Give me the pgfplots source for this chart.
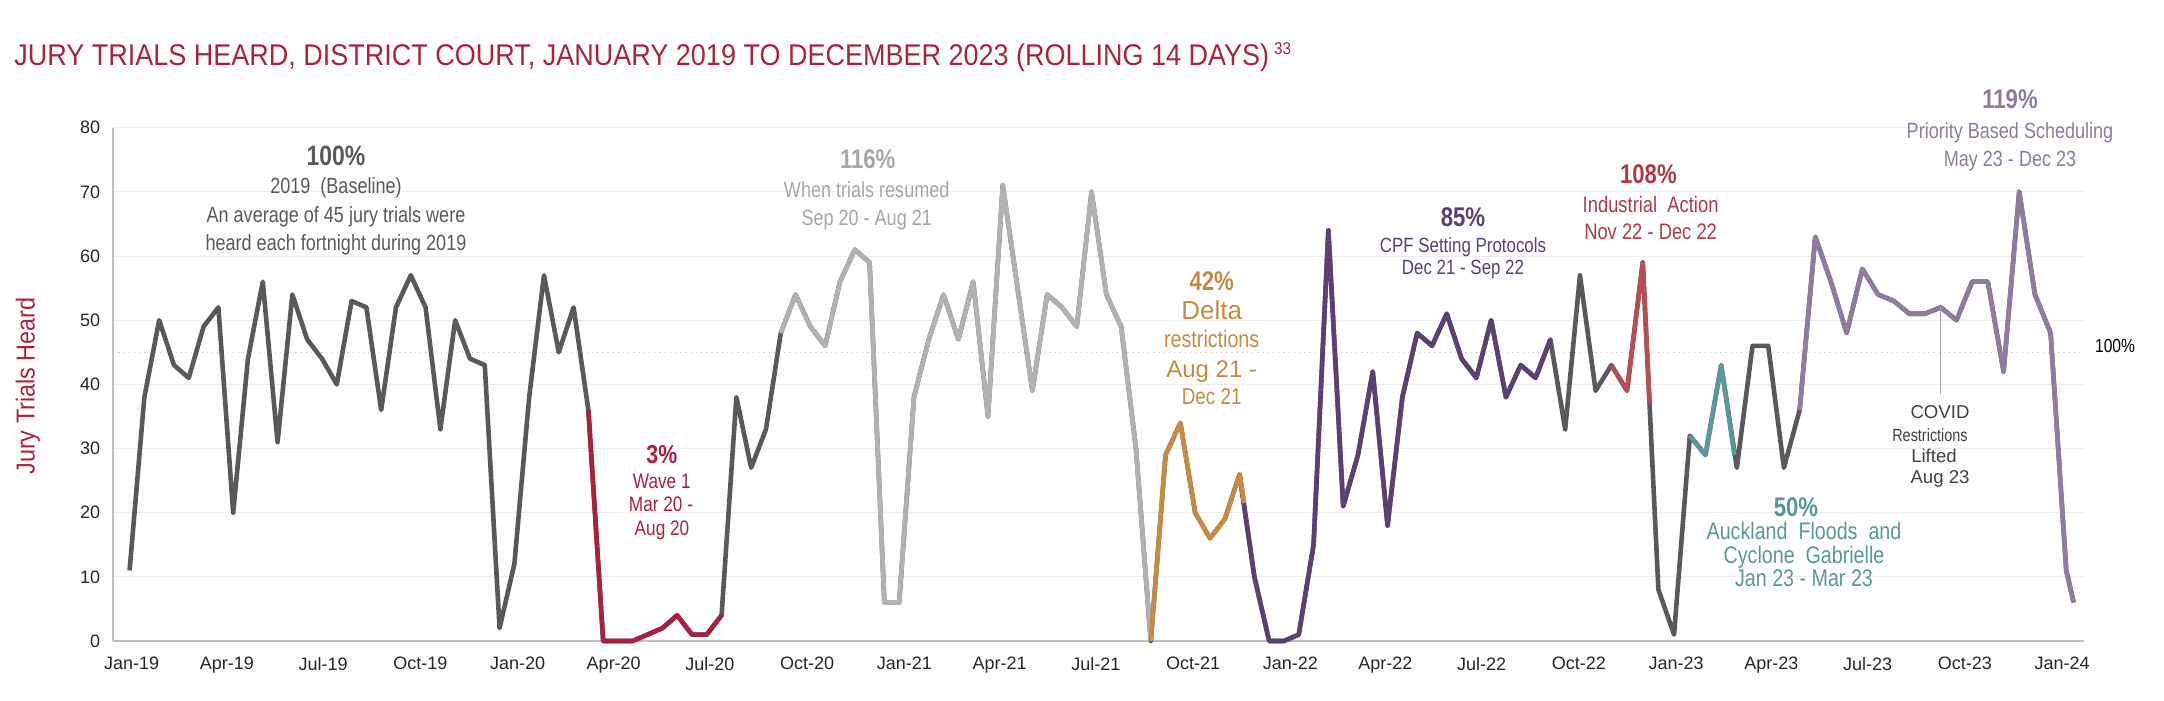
\documentclass[border=0pt]{standalone}
\usepackage{pgfplots}
\pgfplotsset{compat=1.18}
\usepackage{fontspec}
\setmainfont{Liberation Sans}
\newfontfamily\nar{Liberation Sans}[FakeStretch=0.82]
\newfontfamily\nart{Liberation Sans}[FakeStretch=0.9]
\definecolor{ttl}{HTML}{A8243F}
\definecolor{cDG}{HTML}{595959}
\definecolor{cW1}{HTML}{A8213E}
\definecolor{cLG}{HTML}{B0B1B5}
\definecolor{cOR}{HTML}{C48B45}
\definecolor{cPU}{HTML}{5C3F73}
\definecolor{cRO}{HTML}{B94D57}
\definecolor{cRT}{HTML}{B03A48}
\definecolor{cTE}{HTML}{5B9797}
\definecolor{cLP}{HTML}{8E7B9E}
\definecolor{cLGT}{HTML}{A6A6A6}
\begin{document}
\begin{tikzpicture}[x=1pt,y=1pt]
\useasboundingbox (0,0) rectangle (1082,350.5);
\begin{axis}[
  at={(56.65pt,30pt)}, anchor=south west,
  scale only axis, width=985.35pt, height=256.65pt,
  xmin=-17.4, xmax=1846.8, ymin=0, ymax=80,
  axis lines*=left,
  axis line style={draw=black!25, line width=0.8pt},
  ytick={0,10,...,80},
  xtick={0,90,181,273,365,456,547,639,731,821,912,1004,1096,1186,1277,1369,1461,1551,1642,1734,1826},
  xticklabels={Jan-19,Apr-19,Jul-19,Oct-19,Jan-20,Apr-20,Jul-20,Oct-20,Jan-21,Apr-21,Jul-21,Oct-21,Jan-22,Apr-22,Jul-22,Oct-22,Jan-23,Apr-23,Jul-23,Oct-23,Jan-24},
  major tick length=0pt,
  ymajorgrids, grid style={draw=black!7, line width=0.5pt},
  tick label style={font=\fontsize{9}{10}\selectfont, text=black!85},
  xticklabel style={yshift=-4.5pt},
  yticklabel style={xshift=-3pt},
  /pgf/number format/assume math mode=true,
  clip=false,
  every axis plot/.append style={line width=2.3pt, line join=round, mark=none},
]
\addplot[draw=black!20, line width=0.6pt, dotted] coordinates {(-17.4,45) (1846.8,45)};
% full series
\addplot[draw=cDG] coordinates {
(-2,11)(12,38)(26,50)(40,43)(54,41)(68,49)(82,52)(96,20)(110,44)(124,56)
(138,31)(152,54)(166,47)(180,44)(194,40)(208,53)(222,52)(236,36)(250,52)(264,57)
(278,52)(292,33)(306,50)(320,44)(334,43)(348,2)(362,12)(376,38)(390,57)(404,45)
(418,52)(432,36)(446,0)(460,0)(474,0)(488,1)(502,2)(516,4)(530,1)(544,1)
(558,4)(572,38)(586,27)(600,33)(614,48)(628,54)(642,49)(656,46)(670,56)(684,61)
(698,59)(712,6)(726,6)(740,38)(754,47)(768,54)(782,47)(796,56)(810,35)(824,71)
(838,55)(852,39)(866,54)(880,52)(894,49)(908,70)(922,54)(936,49)(950,30)(964,0)
(978,29)(992,34)(1006,20)(1020,16)(1034,19)(1048,26)(1062,10)(1076,0)(1090,0)(1104,1)
(1118,15)(1132,64)(1146,21)(1160,29)(1174,42)(1188,18)(1202,38)(1216,48)(1230,46)(1244,51)
(1258,44)(1272,41)(1286,50)(1300,38)(1314,43)(1328,41)(1342,47)(1356,33)(1370,57)(1384.8,39)
(1399.7,43)(1414.5,39)(1429.4,59)(1444.2,8)(1459.0,1)(1473.9,32)(1488.7,29)(1503.6,43)(1518.4,27)(1533.2,46)
(1548.1,46)(1562.9,27)(1577.8,36)(1592.6,63)(1607.4,56)(1622.3,48)(1637.1,58)(1652.0,54)(1666.8,53)(1681.6,51)
(1696.5,51)(1711.3,52)(1726.2,50)(1741.0,56)(1755.8,56)(1770.7,42)(1785.5,70)(1800.4,54)(1815.2,48)(1830.0,11)
(1837.0,6)};
% Wave 1
\addplot[draw=cW1] coordinates {(432,36)(446,0)(460,0)(474,0)(488,1)(502,2)(516,4)(530,1)(544,1)(558,4)};
% trials resumed
\addplot[draw=cLG] coordinates {(614,48)(628,54)(642,49)(656,46)(670,56)(684,61)
(698,59)(712,6)(726,6)(740,38)(754,47)(768,54)(782,47)(796,56)(810,35)(824,71)
(838,55)(852,39)(866,54)(880,52)(894,49)(908,70)(922,54)(936,49)(950,30)(964,0)};
% CPF
\addplot[draw=cPU] coordinates {(1048,26)(1062,10)(1076,0)(1090,0)(1104,1)
(1118,15)(1132,64)(1146,21)(1160,29)(1174,42)(1188,18)(1202,38)(1216,48)(1230,46)(1244,51)
(1258,44)(1272,41)(1286,50)(1300,38)(1314,43)(1328,41)(1342,47)};
% Delta
\addplot[draw=cOR] coordinates {(964,0)(978,29)(992,34)(1006,20)(1020,16)(1034,19)(1048,26)(1052.3,21.5)};
% Industrial action
\addplot[draw=cRO] coordinates {(1399.7,43)(1414.5,39)(1429.4,59)(1435.9,37)};
% floods
\addplot[draw=cTE] coordinates {(1473.9,32)(1488.7,29)(1503.6,43)(1516.1,29)};
% priority based scheduling
\addplot[draw=cLP] coordinates {(1577.8,36)(1592.6,63)(1607.4,56)(1622.3,48)(1637.1,58)(1652.0,54)(1666.8,53)(1681.6,51)
(1696.5,51)(1711.3,52)(1726.2,50)(1741.0,56)(1755.8,56)(1770.7,42)(1785.5,70)(1800.4,54)(1815.2,48)(1830.0,11)(1837.0,6)};
\draw[black!35, line width=0.6pt] (axis cs:1711.3,52) -- (axis cs:1711.3,38.5);
\end{axis}
% title
\node[anchor=base west, font=\nart\fontsize{15}{17}\selectfont, text=ttl, inner sep=0pt] at (7,317.5)
  {JURY TRIALS HEARD, DISTRICT COURT, JANUARY 2019 TO DECEMBER 2023 (ROLLING 14 DAYS)\,\raisebox{5.5pt}{\fontsize{8.5}{9}\selectfont 33}};
% y label
\node[rotate=90, font=\nart\fontsize{13}{15}\selectfont, text=ttl] at (14,157.5) {Jury Trials Heard};
% right 100%
\node[anchor=base, font=\nar\fontsize{9.5}{11}\selectfont, text=black] at (1057.5,174.25) {100\%};
% baseline
\begin{scope}[every node/.style={anchor=base, inner sep=0pt, text=cDG}]
\node[font=\nar\bfseries\fontsize{14}{16}\selectfont] at (168,267.65) {100\%};
\node[font=\nar\fontsize{11}{13}\selectfont] at (168,253.55) {2019\ \ (Baseline)};
\node[font=\nar\fontsize{11}{13}\selectfont] at (168,239.4) {An average of 45 jury trials were};
\node[font=\nar\fontsize{11}{13}\selectfont] at (168,225.25) {heard each fortnight during 2019};
\end{scope}
% wave 1
\begin{scope}[every node/.style={anchor=base, inner sep=0pt, text=cW1}]
\node[font=\nar\bfseries\fontsize{13}{14}\selectfont] at (330.9,118.5) {3\%};
\node[font=\nar\fontsize{10.5}{12}\selectfont] at (330.9,106.25) {Wave 1};
\node[font=\nar\fontsize{10.5}{12}\selectfont] at (330.5,94.75) {Mar 20 -};
\node[font=\nar\fontsize{10.5}{12}\selectfont] at (331,82.75) {Aug 20};
\end{scope}
% resumed
\begin{scope}[every node/.style={anchor=base, inner sep=0pt, text=cLGT}]
\node[font=\nar\bfseries\fontsize{13.5}{14}\selectfont] at (433.85,266) {116\%};
\node[font=\nar\fontsize{11}{13}\selectfont] at (433.35,251.9) {When trials resumed};
\node[font=\nar\fontsize{11}{13}\selectfont] at (433.35,237.75) {Sep 20 - Aug 21};
\end{scope}
% delta
\begin{scope}[every node/.style={anchor=base, inner sep=0pt, text=cOR}]
\node[font=\nar\bfseries\fontsize{13.5}{14}\selectfont] at (605.85,205.15) {42\%};
\node[font=\fontsize{13}{15}\selectfont] at (605.85,190.55) {Delta};
\node[font=\nar\fontsize{12}{14}\selectfont] at (605.85,176.75) {restrictions};
\node[font=\fontsize{12}{14}\selectfont] at (605.85,161.9) {Aug 21 -};
\node[font=\nar\fontsize{11.5}{13}\selectfont] at (605.85,148.4) {Dec 21};
\end{scope}
% CPF
\begin{scope}[every node/.style={anchor=base, inner sep=0pt, text=cPU}]
\node[font=\nar\bfseries\fontsize{13.5}{14}\selectfont] at (731.5,237) {85\%};
\node[font=\nar\fontsize{10.3}{12}\selectfont] at (731.5,224.3) {CPF Setting Protocols};
\node[font=\nar\fontsize{10.3}{12}\selectfont] at (731.5,213.25) {Dec 21 - Sep 22};
\end{scope}
% industrial
\begin{scope}[every node/.style={anchor=base, inner sep=0pt, text=cRT}]
\node[font=\nar\bfseries\fontsize{13.5}{14}\selectfont] at (824.2,258.5) {108\%};
\node[font=\nar\fontsize{11.2}{13}\selectfont] at (825.3,244.25) {Industrial\ \ Action};
\node[font=\nar\fontsize{11.2}{13}\selectfont] at (825.3,230.6) {Nov 22 - Dec 22};
\end{scope}
% floods
\begin{scope}[every node/.style={anchor=base, inner sep=0pt, text=cTE}]
\node[font=\nar\bfseries\fontsize{13.5}{14}\selectfont] at (898,92) {50\%};
\node[font=\nar\fontsize{12}{14}\selectfont] at (902,80.9) {Auckland\ \ Floods\ \ and};
\node[font=\nar\fontsize{12}{14}\selectfont] at (902,68.75) {Cyclone\ \ Gabrielle};
\node[font=\nar\fontsize{12}{14}\selectfont] at (902,57.25) {Jan 23 - Mar 23};
\end{scope}
% priority
\begin{scope}[every node/.style={anchor=base, inner sep=0pt, text=cLP}]
\node[font=\nar\bfseries\fontsize{13.5}{14}\selectfont] at (1005,296.3) {119\%};
\node[font=\nar\fontsize{11}{13}\selectfont] at (1005,281) {Priority Based Scheduling};
\node[font=\nar\fontsize{11}{13}\selectfont] at (1005,267.15) {May 23 - Dec 23};
\end{scope}
% covid
\begin{scope}[every node/.style={anchor=base, inner sep=0pt, text=black!75}]
\node[font=\fontsize{9.3}{11}\selectfont] at (970,141.3) {COVID};
\node[font=\nar\fontsize{8.8}{10}\selectfont] at (965,129.75) {Restrictions};
\node[font=\fontsize{9.3}{11}\selectfont] at (967,119.15) {Lifted};
\node[font=\fontsize{9.3}{11}\selectfont] at (970,108.8) {Aug 23};
\end{scope}
\end{tikzpicture}
\end{document}
